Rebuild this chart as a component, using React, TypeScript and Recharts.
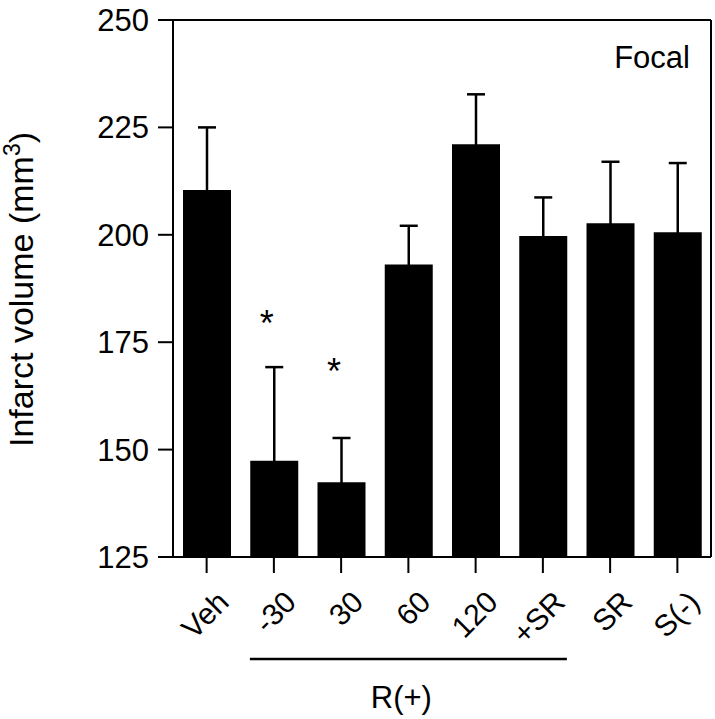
import { ComposedChart, Bar, ErrorBar, Scatter, XAxis, YAxis } from 'recharts'

// group means and upper SEM ends (mm3)
const categories = ['Veh', '-30', '30', '60', '120', '+SR', 'SR', 'S(-)']
const means = [210.4, 147.4, 142.4, 193.1, 221.1, 199.7, 202.7, 200.6]
const upper = [225.0, 169.2, 152.7, 202.1, 232.7, 208.7, 217.0, 216.7]
// asterisk positions (in axis units), null = not significant
const stars: (number | null)[] = [null, 181.3, 170.2, null, null, null, null, null]
const yTicks = [125, 150, 175, 200, 225, 250]
const groupMembers = ['-30', '30', '60', '120', '+SR']

const FONT = '"Liberation Sans", Arial, Helvetica, sans-serif'
const BAR_W = 48

// symmetric SEM; the lower half is hidden inside the black bar
const data = categories.map((name, i) => ({
  name,
  value: means[i],
  err: upper[i] - means[i],
  star: stars[i],
}))

const XTick = ({ x, y, payload }: any) => (
  <g transform={`translate(${x + 24},${y + 31})`}>
    <text textAnchor="end" transform="rotate(-45)" fontSize={30} fontFamily={FONT} fill="#000">
      {payload.value}
    </text>
  </g>
)

const YLabel = ({ viewBox }: any) => {
  const cx = viewBox.x + 33
  const cy = viewBox.y + viewBox.height / 2 + 1
  return (
    <text x={cx} y={cy} transform={`rotate(-90, ${cx}, ${cy})`} textAnchor="middle"
      fontSize={34} fontFamily={FONT} fill="#000">
      Infarct volume (mm<tspan dy={-13} fontSize={23}>3</tspan><tspan dy={13}>)</tspan>
    </text>
  )
}

// bracket under the R(+) doses
const GroupLabel = ({ viewBox }: any) => {
  const band = viewBox.width / categories.length
  const first = categories.indexOf(groupMembers[0])
  const last = categories.indexOf(groupMembers[groupMembers.length - 1])
  const x1 = viewBox.x + first * band + (band - BAR_W) / 2
  const x2 = viewBox.x + (last + 1) * band - (band - BAR_W) / 2
  const ly = viewBox.y + 102
  return (
    <g>
      <line x1={x1} y1={ly} x2={x2} y2={ly} stroke="#000" strokeWidth={2.5} />
      <text x={(x1 + x2) / 2 - 7} y={viewBox.y + 151} textAnchor="middle"
        fontSize={31} fontFamily={FONT} fill="#000">R(+)</text>
    </g>
  )
}

const FocalLabel = ({ viewBox }: any) => (
  <text x={viewBox.x - 21} y={viewBox.y + 48} textAnchor="end"
    fontSize={31} fontFamily={FONT} fill="#000">Focal</text>
)

const Star = ({ cx, cy, payload }: any) => {
  if (payload.star == null) return null
  return (
    <text x={cx - 7} y={cy + 21} textAnchor="middle" fontSize={36} fontFamily={FONT} fill="#000">*</text>
  )
}

export default function App() {
  const axisStroke = { stroke: '#000', strokeWidth: 2 }
  return (
    <div style={{ position: 'absolute', left: 0, top: 0, background: '#fff' }}>
      <ComposedChart width={715} height={719} data={data}
        margin={{ top: 19, right: 3, left: 0, bottom: 0 }}>
        <XAxis dataKey="name" height={162} interval={0} tick={<XTick />}
          tickSize={16} tickMargin={0} axisLine={axisStroke} tickLine={axisStroke}
          label={{ content: <GroupLabel /> }} />
        <XAxis xAxisId="top" orientation="top" dataKey="name" height={1}
          tick={false} tickLine={false} axisLine={axisStroke} />
        <YAxis type="number" domain={[125, 250]} ticks={yTicks} width={173}
          tickSize={15} tickMargin={9} axisLine={axisStroke} tickLine={axisStroke}
          tick={{ fontSize: 31, fill: '#000', fontFamily: FONT }}
          label={{ content: <YLabel /> }} />
        <YAxis yAxisId="right" orientation="right" type="number" domain={[125, 250]}
          ticks={yTicks} width={1} tick={false} tickLine={false} axisLine={axisStroke}
          label={{ content: <FocalLabel /> }} />
        <Bar dataKey="value" fill="#000" barSize={BAR_W} isAnimationActive={false}>
          <ErrorBar dataKey="err" direction="y" width={9} stroke="#000" strokeWidth={2.5} />
        </Bar>
        <Scatter dataKey="star" xAxisId="top" yAxisId="right" shape={<Star />} isAnimationActive={false} />
      </ComposedChart>
    </div>
  )
}
